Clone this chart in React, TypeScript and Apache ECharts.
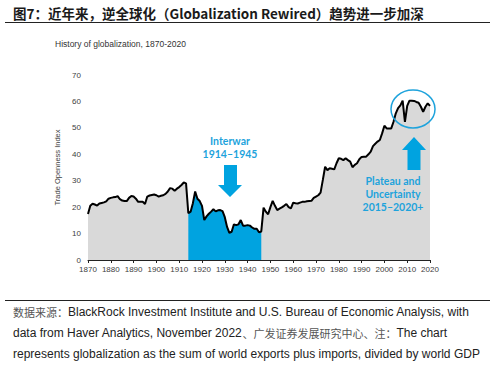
import React, { useEffect, useRef } from "react";
import * as echarts from "echarts";

const years: number[] = [];
for (let y = 1870; y <= 2020; y++) years.push(y);

const openness: number[] = [
  17.4, 20.5, 21.3, 21.0, 20.6, 21.4, 21.6, 21.8, 22.2, 23.2,
  23.5, 23.7, 23.8, 24.2, 23.0, 22.5, 22.3, 22.3, 23.5, 24.2,
  24.0, 23.2, 22.0, 22.0, 22.0, 21.2, 24.0, 24.4, 24.6, 24.8,
  24.5, 24.0, 24.3, 24.5, 25.0, 25.9, 27.2, 27.0, 26.2, 27.0,
  27.6, 28.4, 29.3, 29.0, 17.7, 18.3, 21.5, 25.9, 23.2, 22.3,
  20.5, 15.1, 16.5, 17.5, 18.3, 19.2, 18.4, 18.8, 18.9, 18.5,
  16.2, 12.5, 10.3, 10.7, 13.5, 13.2, 13.5, 15.1, 13.0, 13.0,
  13.2, 13.0, 12.3, 11.8, 11.8, 10.5, 10.8, 19.8, 18.3, 17.3,
  20.0, 22.4, 20.5, 18.9, 19.4, 19.9, 20.5, 21.2, 20.0, 19.5,
  21.7, 21.5, 21.4, 21.7, 22.0, 22.0, 22.2, 22.3, 22.4, 23.5,
  24.0, 24.5, 25.5, 30.3, 35.3, 34.0, 34.7, 34.5, 34.3, 36.6,
  38.5, 38.3, 37.8, 38.5, 37.8, 37.2, 35.1, 36.0, 36.6, 38.1,
  39.0, 39.1, 39.1, 40.0, 41.0, 43.1, 44.0, 44.8, 45.4, 47.9,
  50.8, 49.8, 49.8, 49.8, 52.3, 55.5, 57.5, 58.5, 60.3, 52.3,
  58.3, 60.3, 60.3, 60.2, 59.8, 59.5, 58.0, 56.1, 58.0, 59.3,
  58.3,
];

const interwarStart = 1914;
const interwarEnd = 1946;

const yTicks = [0, 10, 20, 30, 40, 50, 60, 70];
const xTicks = [1870, 1880, 1890, 1900, 1910, 1920, 1930, 1940, 1950, 1960, 1970, 1980, 1990, 2000, 2010, 2020];

const BLUE = "#00a3e0";
const ANNO = "#1ea3dc";
const GREY = "#d9d9d9";

export default function App() {
  const ref = useRef<HTMLDivElement>(null);
  useEffect(() => {
    if (!ref.current) return;
    const chart = echarts.init(ref.current, undefined, { renderer: "svg" });
    const full = years.map((y, i) => [y, openness[i]]);
    const interwar = full.filter((d) => d[0] >= interwarStart && d[0] <= interwarEnd);
    const sans = "'Liberation Sans', Arial, sans-serif";
    const bold = "Lato, 'Open Sans', sans-serif";
    const annoText = (text: string, x: number, y: number) => ({
      type: "text",
      x,
      y,
      z: 100,
      style: {
        text,
        fontSize: 10.5,
        lineHeight: 13,
        fontWeight: "bold",
        fill: ANNO,
        fontFamily: bold,
        align: "center",
        verticalAlign: "middle",
      },
    });
    chart.setOption({
      animation: false,
      backgroundColor: "#ffffff",
      grid: { left: 88, right: 70, top: 75, bottom: 108, containLabel: false },
      xAxis: {
        type: "value",
        min: xTicks[0],
        max: xTicks[xTicks.length - 1],
        interval: 10,
        axisLine: { show: true, lineStyle: { color: "#222", width: 1 } },
        axisTick: { show: true, length: 3, lineStyle: { color: "#222" } },
        splitLine: { show: false },
        axisLabel: { fontSize: 8, color: "#404040", margin: 5, fontFamily: sans, formatter: (v: number) => String(v) },
      },
      yAxis: {
        type: "value",
        min: yTicks[0],
        max: yTicks[yTicks.length - 1],
        interval: 10,
        name: "Trade Openness Index",
        nameLocation: "middle",
        nameGap: 24,
        nameTextStyle: { fontSize: 7.5, color: "#404040", fontFamily: sans },
        axisLine: { show: false },
        axisTick: { show: false },
        splitLine: { show: false },
        axisLabel: { fontSize: 8, color: "#404040", margin: 7, fontFamily: sans },
      },
      series: [
        {
          type: "line",
          data: full,
          showSymbol: false,
          lineStyle: { width: 0 },
          areaStyle: { color: GREY, opacity: 1 },
          z: 1,
        },
        {
          type: "line",
          data: interwar,
          showSymbol: false,
          lineStyle: { width: 0 },
          areaStyle: { color: BLUE, opacity: 1 },
          z: 2,
        },
        {
          type: "line",
          data: full,
          showSymbol: false,
          lineStyle: { width: 2, color: "#000" },
          z: 3,
        },
      ],
      graphic: [
        {
          type: "text",
          x: 13,
          y: 13,
          z: 100,
          style: {
            text: "图7：近年来，逆全球化（Globalization Rewired）趋势进一步加深",
            fontSize: 13.5,
            fontWeight: "bold",
            fill: "#1a1a1a",
            fontFamily: "'Noto Sans CJK SC', 'Liberation Sans', sans-serif",
            verticalAlign: "middle",
          },
        },
        { type: "line", z: 100, shape: { x1: 5, y1: 22.5, x2: 490, y2: 22.5 }, style: { stroke: "#222", lineWidth: 1 } },
        {
          type: "text",
          x: 55,
          y: 44,
          z: 100,
          style: {
            text: "History of globalization, 1870-2020",
            fontSize: 8.5,
            fill: "#333",
            fontFamily: sans,
            verticalAlign: "middle",
          },
        },
        annoText("Interwar\n1914–1945", 230, 147),
        {
          type: "polygon",
          z: 100,
          shape: { points: [[224, 165], [237, 165], [237, 185], [242, 185], [230, 197], [218, 185], [224, 185]] },
          style: { fill: BLUE },
        },
        {
          type: "polygon",
          z: 100,
          shape: { points: [[407.5, 170], [420.5, 170], [420.5, 150], [426, 150], [414, 137], [402, 150], [407.5, 150]] },
          style: { fill: BLUE },
        },
        {
          type: "ellipse",
          z: 100,
          shape: { cx: 413, cy: 109, rx: 22, ry: 19 },
          style: { fill: "none", stroke: ANNO, lineWidth: 1.5 },
        },
        annoText("Plateau and\nUncertainty\n2015–2020+", 393, 194),
        { type: "line", z: 100, shape: { x1: 5, y1: 300.5, x2: 490, y2: 300.5 }, style: { stroke: "#222", lineWidth: 1 } },
        {
          type: "text",
          x: 13,
          y: 312,
          z: 100,
          style: {
            text: "{c|数据来源：}{e|BlackRock Investment Institute and U.S. Bureau of Economic Analysis, with}",
            verticalAlign: "middle",
            rich: {
              c: { fontSize: 11, fill: "#555", fontFamily: "'Noto Sans CJK SC', sans-serif" },
              e: { fontSize: 12, fill: "#222", fontFamily: sans },
            },
          },
        },
        {
          type: "text",
          x: 13,
          y: 333,
          z: 100,
          style: {
            text: "{e|data from Haver Analytics, November 2022}{c|、广发证券发展研究中心、注：}{e|The chart}",
            verticalAlign: "middle",
            rich: {
              c: { fontSize: 11, fill: "#555", fontFamily: "'Noto Sans CJK SC', sans-serif" },
              e: { fontSize: 12, fill: "#222", fontFamily: sans },
            },
          },
        },
        {
          type: "text",
          x: 13,
          y: 354,
          z: 100,
          style: {
            text: "represents globalization as the sum of world exports plus imports, divided by world GDP",
            fontSize: 12,
            fill: "#222",
            fontFamily: sans,
            verticalAlign: "middle",
          },
        },
      ],
    });
    return () => chart.dispose();
  }, []);
  return <div ref={ref} style={{ position: "fixed", left: 0, top: 0, width: 500, height: 368 }} />;
}
